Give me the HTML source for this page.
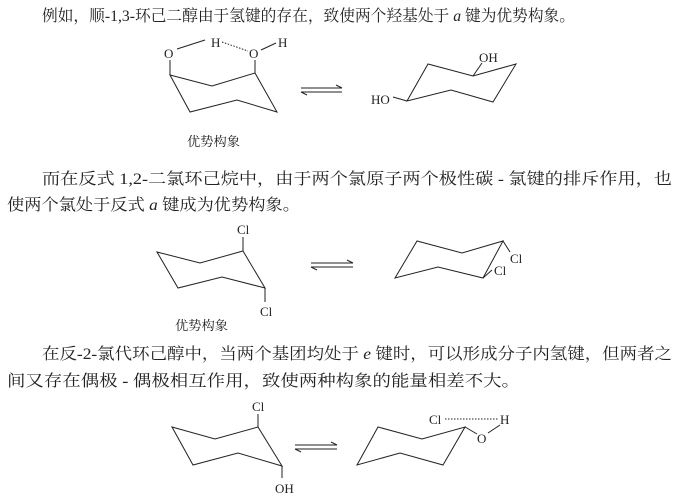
<!DOCTYPE html>
<html><head><meta charset="utf-8"><style>
html,body{margin:0;padding:0;background:#fff;}
svg{display:block;}
.t{font-family:"Liberation Serif","Noto Serif CJK SC","Noto Sans CJK SC",serif;font-size:16px;fill:#222;}
.a{font-family:"Liberation Serif",serif;font-size:13px;fill:#222;}
.c{font-family:"Liberation Serif","Noto Serif CJK SC","Noto Sans CJK SC",serif;font-size:13px;fill:#222;}
line,polyline,polygon{stroke:#222;stroke-width:1;fill:none;}
</style></head><body>
<svg width="691" height="498" viewBox="0 0 691 498">
<text class="t" x="42" y="21" textLength="533" lengthAdjust="spacingAndGlyphs">例如，顺-1,3-环己二醇由于氢键的存在，致使两个羟基处于 <tspan font-style="italic">a</tspan> 键为优势构象。</text>
<!-- diagram 1 left -->
<polygon points="170,75 212,86 255,73 277,112 237,100 190,112"/>
<line x1="170" y1="75" x2="170" y2="60"/>
<line x1="255" y1="73" x2="255" y2="60"/>
<text class="a" x="164" y="58">O</text>
<text class="a" x="249" y="58">O</text>
<text class="a" x="211" y="47">H</text>
<text class="a" x="278" y="47">H</text>
<line x1="177" y1="49" x2="205" y2="40"/>
<line x1="222" y1="42" x2="248" y2="51" stroke-dasharray="1.5,1.5"/>
<line x1="261" y1="50" x2="276" y2="43"/>
<text class="c" x="187" y="146" textLength="53" lengthAdjust="spacingAndGlyphs">优势构象</text>
<!-- arrow 1 -->
<line x1="301" y1="88" x2="342" y2="88"/><polyline points="336,85 342,88"/>
<line x1="301" y1="92" x2="342" y2="92"/><polyline points="307,95 301,92"/>
<!-- right ring 1 -->
<polygon points="407,101 428,64 473,76 516,64 493,102 451,90"/>
<line x1="407" y1="101" x2="393" y2="97"/>
<text class="a" x="371" y="104">HO</text>
<line x1="473" y1="76" x2="482" y2="63"/>
<text class="a" x="479" y="62">OH</text>

<text class="t" x="42" y="184" textLength="630" lengthAdjust="spacingAndGlyphs">而在反式 1,2-二氯环己烷中，由于两个氯原子两个极性碳 - 氯键的排斥作用，也</text>
<text class="t" x="7" y="210" textLength="293" lengthAdjust="spacingAndGlyphs">使两个氯处于反式 <tspan font-style="italic">a</tspan> 键成为优势构象。</text>
<!-- diagram 2 -->
<polygon points="157,252 200,263 243,251 265,288 222,277 178,288"/>
<line x1="243" y1="251" x2="243" y2="237"/>
<text class="a" x="237" y="234">Cl</text>
<line x1="265" y1="288" x2="265" y2="302"/>
<text class="a" x="260" y="316">Cl</text>
<text class="c" x="175" y="330" textLength="53" lengthAdjust="spacingAndGlyphs">优势构象</text>
<line x1="311" y1="263" x2="353" y2="263"/><polyline points="347,260 353,263"/>
<line x1="311" y1="267" x2="353" y2="267"/><polyline points="317,270 311,267"/>
<polygon points="395,278 417,241 462,253 503,241 483,278 438,267"/>
<line x1="503" y1="241" x2="510" y2="252"/>
<text class="a" x="510" y="263">Cl</text>
<line x1="483" y1="278" x2="492" y2="270"/>
<text class="a" x="494" y="275">Cl</text>

<text class="t" x="42" y="359" textLength="630" lengthAdjust="spacingAndGlyphs">在反-2-氯代环己醇中，当两个基团均处于 <tspan font-style="italic">e</tspan> 键时，可以形成分子内氢键，但两者之</text>
<text class="t" x="7" y="386" textLength="513" lengthAdjust="spacingAndGlyphs">间又存在偶极 - 偶极相互作用，致使两种构象的能量相差不大。</text>
<!-- diagram 3 -->
<polygon points="172,427 215,439 258,427 282,466 238,453 193,465"/>
<line x1="258" y1="427" x2="258" y2="414"/>
<text class="a" x="252" y="411">Cl</text>
<line x1="282" y1="466" x2="282" y2="478"/>
<text class="a" x="275" y="493">OH</text>
<line x1="295" y1="445" x2="337" y2="445"/><polyline points="331,442 337,445"/>
<line x1="295" y1="449" x2="337" y2="449"/><polyline points="301,452 295,449"/>
<polygon points="357,465 378,427 422,439 465,427 443,465 400,453"/>
<text class="a" x="429" y="424">Cl</text>
<line x1="445" y1="419" x2="499" y2="419" stroke-dasharray="1.5,1.5"/>
<text class="a" x="500" y="424">H</text>
<line x1="465" y1="427" x2="477" y2="434"/>
<text class="a" x="477" y="443">O</text>
<line x1="488" y1="433" x2="500" y2="425"/>
</svg>
</body></html>
